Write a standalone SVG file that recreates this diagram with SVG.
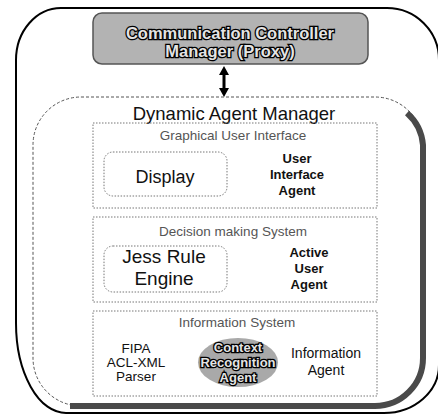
<svg xmlns="http://www.w3.org/2000/svg" width="438" height="414" viewBox="0 0 438 414">
<style>
text{font-family:"Liberation Sans",Arial,sans-serif;text-anchor:middle;fill:#111}
.title{font-size:13.5px;fill:#555}
.dot{fill:none;stroke:#777;stroke-width:1;stroke-dasharray:1.5 1.5}
.lbl{font-size:13px;font-weight:bold}
.out{fill:#e4e4e4;stroke:#000;stroke-width:2.6;paint-order:stroke;font-weight:bold}
</style>
<rect width="438" height="414" fill="#fff"/>
<g id="outer">
<path d="M16 60 A45 52 0 0 1 61 8 L387 8 A52 52 0 0 1 439 60 L439 365 A55 48 0 0 1 384 413 L66 413 A50 90 0 0 1 16 323 Z" fill="none" stroke="#000" stroke-width="2"/>
</g>
<g id="proxy">
<rect x="93" y="13" width="275" height="51" rx="9" fill="#b3b3b3" stroke="#555" stroke-width="1.5"/>
<text class="out" x="230" y="39" font-size="16.5">Communication Controller</text>
<text class="out" x="230" y="57" font-size="16.5">Manager (Proxy)</text>
</g>
<g id="connectors">
<polygon points="224,66 229,75 225.5,75 225.5,88 229,88 224,97 219,88 222.5,88 222.5,75 219,75" fill="#000"/>
</g>
<g id="dam">
<rect x="33" y="97" width="390" height="309" rx="48" fill="none" stroke="#555" stroke-width="1" stroke-dasharray="3 2"/>
<path d="M407 113 A48 48 0 0 1 423 145 L423 358 A48 48 0 0 1 375 406 L70 406" fill="none" stroke="#4a4a4a" stroke-width="6"/>
<text x="234" y="120" font-size="18.5">Dynamic Agent Manager</text>
</g>
<g id="gui">
<rect class="dot" x="93" y="123" width="284" height="85"/>
<text class="title" x="233" y="140">Graphical User Interface</text>
</g>
<g id="display">
<rect class="dot" x="104" y="152" width="123" height="44" rx="9"/>
<text x="165" y="183" font-size="18">Display</text>
</g>
<g id="uia">
<text class="lbl" x="297" y="163">User</text>
<text class="lbl" x="297" y="179">Interface</text>
<text class="lbl" x="297" y="195">Agent</text>
</g>
<g id="dms">
<rect class="dot" x="93" y="217" width="284" height="85"/>
<text class="title" x="233" y="236">Decision making System</text>
</g>
<g id="jess">
<rect class="dot" x="104" y="246" width="123" height="46" rx="9"/>
<text x="164" y="263" font-size="19">Jess Rule</text>
<text x="164" y="285" font-size="19">Engine</text>
</g>
<g id="aua">
<text class="lbl" x="309" y="257">Active</text>
<text class="lbl" x="309" y="273">User</text>
<text class="lbl" x="309" y="289">Agent</text>
</g>
<g id="info">
<rect class="dot" x="93" y="311" width="284" height="85"/>
<text class="title" x="237" y="327">Information System</text>
</g>
<g id="fipa">
<text x="136" y="353" font-size="13.5">FIPA</text>
<text x="136" y="367" font-size="13.5">ACL-XML</text>
<text x="136" y="381" font-size="13.5">Parser</text>
</g>
<g id="cra">
<ellipse cx="238" cy="362.5" rx="40" ry="24.5" fill="#a9a9a9"/>
<text class="out" x="238" y="352" font-size="13">Context</text>
<text class="out" x="238" y="367" font-size="13">Recognition</text>
<text class="out" x="238" y="382" font-size="13">Agent</text>
</g>
<g id="ia">
<text x="326" y="358" font-size="14">Information</text>
<text x="326" y="375" font-size="14">Agent</text>
</g>
</svg>
